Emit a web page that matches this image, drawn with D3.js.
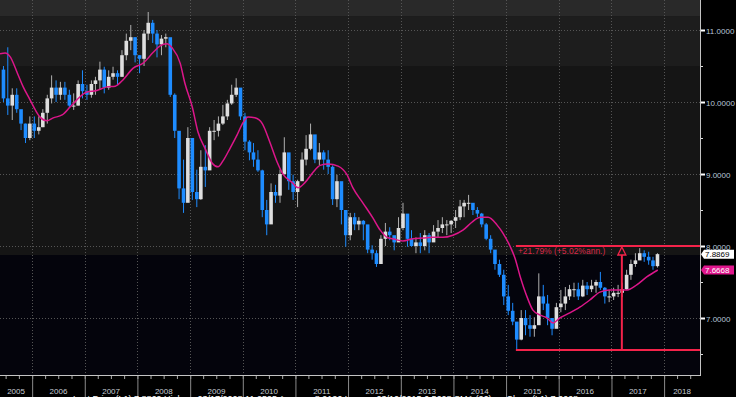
<!DOCTYPE html>
<html>
<head>
<meta charset="utf-8">
<script src="https://cdnjs.cloudflare.com/ajax/libs/d3/7.8.5/d3.min.js"></script>
<style>
  html, body { margin: 0; padding: 0; background: #000; }
  svg { display: block; }
  text { font-family: "Liberation Sans", Arial, sans-serif; }
</style>
</head>
<body>
<svg id="chart" width="736" height="397"></svg>
<script>
// monthly bars, Jun 2005 .. Nov 2017 (open = previous close)
const firstMonth = new Date(2005, 5, 1);
const firstOpen = 10.45;

const highs = [
  10.50, 10.76, 10.19, 10.19, 9.85, 9.70, 9.80,
  9.80, 9.80, 9.90, 10.10, 10.37, 10.30, 10.28, 10.28, 10.17, 10.12, 10.30, 10.44,
  10.24, 10.30, 10.35, 10.56, 10.49, 10.44, 10.49, 10.44, 10.72, 10.95, 11.07, 10.90,
  10.65, 11.00, 11.25, 11.14, 11.00, 10.93, 10.95, 10.80, 10.12, 9.50, 9.20, 9.65,
  9.40, 9.06, 9.33, 9.40, 9.65, 9.75, 9.80, 9.96, 10.03, 10.24, 10.33, 10.17,
  9.85, 9.47, 9.43, 9.33, 9.06, 8.64, 8.87, 8.85, 9.06, 9.51, 9.12, 8.99,
  8.92, 9.30, 9.54, 9.70, 9.47, 9.43, 9.33, 9.33, 9.12, 8.99, 8.78, 8.46,
  8.46, 8.46, 8.40, 8.36, 8.22, 8.01, 7.94, 8.15, 8.32, 8.26, 8.12, 8.40,
  8.60, 8.26, 8.22, 8.12, 8.18, 8.22, 8.18, 8.29, 8.36, 8.40, 8.36, 8.36,
  8.50, 8.64, 8.64, 8.71, 8.57, 8.54, 8.46, 8.32, 8.15, 7.94, 7.81, 7.67,
  7.46, 7.21, 6.83, 7.11, 7.11, 7.04, 7.01, 7.62, 7.46, 7.32, 6.97, 7.21,
  7.39, 7.43, 7.46, 7.49, 7.49, 7.53, 7.50, 7.53, 7.53, 7.64, 7.43, 7.39,
  7.42, 7.46, 7.49, 7.67, 7.81, 7.90, 7.97, 7.94, 7.92, 7.85, 7.90
];
const lows = [
  10.00, 9.82, 9.75, 9.85, 9.61, 9.43, 9.47,
  9.50, 9.55, 9.65, 9.70, 9.98, 10.00, 10.03, 10.03, 9.92, 9.89, 9.95, 10.05,
  10.03, 10.06, 10.10, 10.17, 10.12, 10.17, 10.31, 10.24, 10.35, 10.58, 10.72, 10.55,
  10.40, 10.50, 10.86, 10.82, 10.62, 10.65, 10.76, 10.07, 9.50, 8.65, 8.46, 8.64,
  8.64, 8.54, 8.64, 8.82, 9.20, 9.47, 9.52, 9.68, 9.75, 9.96, 10.07, 9.75,
  9.33, 9.19, 9.10, 9.03, 8.40, 8.15, 8.43, 8.60, 8.60, 8.99, 8.78, 8.64,
  8.54, 8.99, 9.12, 9.33, 9.15, 9.12, 9.06, 9.00, 8.57, 8.54, 8.30, 7.99,
  8.08, 8.22, 8.22, 8.08, 7.90, 7.81, 7.71, 7.81, 8.00, 8.08, 7.94, 8.12,
  8.22, 7.99, 7.99, 7.90, 7.90, 7.94, 7.90, 8.08, 8.12, 8.18, 8.15, 8.18,
  8.25, 8.36, 8.40, 8.50, 8.43, 8.40, 8.26, 8.08, 7.90, 7.67, 7.57, 7.18,
  7.04, 6.90, 6.56, 6.69, 6.76, 6.74, 6.74, 7.07, 7.11, 6.90, 6.76, 7.04,
  7.08, 7.11, 7.25, 7.29, 7.25, 7.29, 7.32, 7.36, 7.35, 7.39, 7.20, 7.22,
  7.25, 7.29, 7.29, 7.39, 7.53, 7.71, 7.85, 7.78, 7.74, 7.67, 7.70
];
const closes = [
  10.05, 9.95, 10.10, 9.90, 9.70, 9.50, 9.70,
  9.60, 9.65, 9.85, 10.05, 10.20, 10.10, 10.20, 10.10, 9.95, 9.95, 10.25, 10.15,
  10.10, 10.25, 10.30, 10.45, 10.20, 10.35, 10.40, 10.35, 10.65, 10.85, 10.90, 10.65,
  10.60, 10.95, 11.10, 10.95, 10.80, 10.88, 10.90, 10.10, 9.60, 8.80, 8.60, 9.50,
  8.75, 8.65, 9.10, 9.05, 9.60, 9.60, 9.70, 9.80, 9.98, 10.10, 10.20, 9.80,
  9.45, 9.30, 9.20, 9.05, 8.50, 8.30, 8.75, 8.70, 9.00, 9.30, 8.90, 8.75,
  8.90, 9.20, 9.35, 9.55, 9.20, 9.30, 9.20, 9.10, 8.65, 8.90, 8.50, 8.15,
  8.40, 8.30, 8.35, 8.30, 7.95, 7.90, 7.75, 8.10, 8.20, 8.15, 8.05, 8.25,
  8.45, 8.10, 8.00, 8.05, 8.00, 8.15, 8.05, 8.20, 8.25, 8.30, 8.30, 8.35,
  8.40, 8.55, 8.60, 8.60, 8.50, 8.45, 8.30, 8.10, 7.95, 7.75, 7.60, 7.30,
  7.10, 6.95, 6.70, 7.00, 6.90, 6.85, 6.90, 7.30, 7.20, 7.00, 6.85, 7.15,
  7.20, 7.30, 7.40, 7.40, 7.30, 7.45, 7.40, 7.45, 7.50, 7.42, 7.30, 7.30,
  7.35, 7.35, 7.40, 7.60, 7.75, 7.80, 7.90, 7.85, 7.80, 7.72, 7.8869
];

// moving average, read as (decimal year, value)
const maYears = [
  2005.39, 2005.49, 2005.58, 2005.72, 2005.83, 2005.96, 2006.06, 2006.15, 2006.28, 2006.40,
  2006.57, 2006.72, 2006.85, 2007.04, 2007.23, 2007.42, 2007.58, 2007.73, 2007.92, 2008.11,
  2008.30, 2008.43, 2008.56, 2008.66, 2008.81, 2008.90, 2009.04, 2009.15, 2009.28, 2009.42,
  2009.53, 2009.63, 2009.76, 2009.89, 2010.01, 2010.10, 2010.23, 2010.37, 2010.52, 2010.65,
  2010.77, 2010.94, 2011.05, 2011.18, 2011.32, 2011.47, 2011.62, 2011.81, 2011.98, 2012.09,
  2012.28, 2012.47, 2012.61, 2012.74, 2012.85, 2013.04, 2013.23, 2013.42, 2013.61, 2013.80,
  2013.99, 2014.18, 2014.35, 2014.51, 2014.66, 2014.83, 2014.94, 2015.08, 2015.17, 2015.27,
  2015.40, 2015.51, 2015.65, 2015.78, 2015.89, 2016.02, 2016.21, 2016.40, 2016.59, 2016.78,
  2016.97, 2017.16, 2017.30, 2017.48, 2017.67, 2017.88
];
const maValues = [
  10.67, 10.68, 10.63, 10.40, 10.21, 10.03, 9.89, 9.79, 9.74, 9.78,
  9.82, 9.93, 10.03, 10.14, 10.16, 10.21, 10.22, 10.31, 10.47, 10.54,
  10.69, 10.78, 10.81, 10.75, 10.54, 10.26, 9.93, 9.58, 9.36, 9.15,
  9.10, 9.19, 9.36, 9.54, 9.72, 9.79, 9.78, 9.70, 9.43, 9.17,
  8.99, 8.88, 8.81, 8.88, 9.01, 9.12, 9.14, 9.11, 8.99, 8.81,
  8.60, 8.39, 8.22, 8.12, 8.10, 8.07, 8.10, 8.11, 8.12, 8.12,
  8.15, 8.22, 8.33, 8.40, 8.40, 8.29, 8.18, 7.99, 7.83, 7.57,
  7.29, 7.11, 7.04, 7.00, 6.93, 7.00, 7.07, 7.15, 7.25, 7.36,
  7.39, 7.39, 7.39, 7.46, 7.57, 7.6668
];

const yearLabels = ['2005', '2006', '2007', '2008', '2009', '2010', '2011',
  '2012', '2013', '2014', '2015', '2016', '2017', '2018'];
const yTicks = [7, 8, 9, 10, 11];
const yMinorTicks = [6.5, 7.5, 8.5, 9.5, 10.5];
const bandEdges = [11.194, 10.5, 7.875];
const bandColors = ['#292929', '#1d1d1d', '#151515', '#04040c'];

const lastPrice = 7.8869;
const lastMa = 7.6668;
const lowLevel = 6.555;
const highLevel = 8.0;
const moveStart = new Date(2015, 2, 10);
const moveMark = new Date(2017, 2, 14);
const moveLabel = '+21.79% (+5.02%ann.)';
const legendText = 'Last Price (L1) 7.8869    High on 03/17/2008 11.2595    Average 8.9126    Low on 03/10/2015 6.5608    SMA (26) on Close (L1) 7.6668';

const plot = { left: 0, top: 0, right: 700, bottom: 375 };
const svg = d3.select('#chart');

const x = d3.scaleTime()
  .domain([new Date(2005, 4, 23), new Date(2018, 8, 7)])
  .range([plot.left, plot.right]);
const y = d3.scaleLinear().domain([7, 11]).range([318, 30]);

function yearToDate(t) {
  const yr = Math.floor(t);
  const a = new Date(yr, 0, 1), b = new Date(yr + 1, 0, 1);
  return new Date(+a + (t - yr) * (b - a));
}

svg.append('rect').attr('width', 736).attr('height', 397).attr('fill', '#000');

// background bands
const edges = [plot.top, ...bandEdges.map(y), plot.bottom];
svg.append('g').selectAll('rect')
  .data(bandColors)
  .join('rect')
  .attr('x', plot.left)
  .attr('width', plot.right - plot.left)
  .attr('y', (d, i) => edges[i])
  .attr('height', (d, i) => edges[i + 1] - edges[i])
  .attr('fill', d => d);

// dotted grid
const yearStarts = d3.timeYear.range(new Date(2006, 0, 1), new Date(2018, 0, 2));
const grid = svg.append('g').attr('stroke', '#555').attr('stroke-dasharray', '1,2');
grid.selectAll('.gy').data(yTicks).join('line')
  .attr('x1', plot.left).attr('x2', plot.right)
  .attr('y1', d => y(d) + 0.5).attr('y2', d => y(d) + 0.5);
grid.selectAll('.gx').data(yearStarts).join('line')
  .attr('x1', d => Math.round(x(d)) + 0.5).attr('x2', d => Math.round(x(d)) + 0.5)
  .attr('y1', plot.top).attr('y2', plot.bottom);

// candles
const bars = closes.map((c, i) => ({
  date: d3.timeDay.offset(d3.timeMonth.offset(firstMonth, i), 15),
  open: i ? closes[i - 1] : firstOpen,
  high: highs[i],
  low: lows[i],
  close: c
}));
const upCol = '#dedede', downCol = '#1e8cff';
const candles = svg.append('g');
candles.selectAll('line').data(bars).join('line')
  .attr('x1', d => x(d.date)).attr('x2', d => x(d.date))
  .attr('y1', d => y(d.high)).attr('y2', d => y(d.low))
  .attr('stroke', d => d.close >= d.open ? '#b0b0b0' : downCol)
  .attr('stroke-width', 1);
candles.selectAll('rect').data(bars).join('rect')
  .attr('x', d => x(d.date) - 1.8)
  .attr('width', 3.6)
  .attr('y', d => y(Math.max(d.open, d.close)))
  .attr('height', d => Math.max(1, Math.abs(y(d.open) - y(d.close))))
  .attr('fill', d => d.close >= d.open ? upCol : downCol);

// moving average
const maData = maYears.map((t, i) => ({ date: yearToDate(t), value: maValues[i] }));
svg.append('path')
  .datum(maData)
  .attr('fill', 'none')
  .attr('stroke', '#dc168a')
  .attr('stroke-width', 1.5)
  .attr('d', d3.line().x(d => x(d.date)).y(d => y(d.value)).curve(d3.curveMonotoneX));

// move annotation
const red = '#f4234a';
const ann = svg.append('g').attr('stroke', red).attr('stroke-width', 2).attr('fill', 'none');
ann.append('line')
  .attr('x1', x(moveStart)).attr('x2', plot.right)
  .attr('y1', y(highLevel)).attr('y2', y(highLevel));
ann.append('line')
  .attr('x1', x(moveStart)).attr('x2', plot.right)
  .attr('y1', y(lowLevel)).attr('y2', y(lowLevel));
ann.append('line')
  .attr('x1', x(moveMark)).attr('x2', x(moveMark))
  .attr('y1', y(lowLevel)).attr('y2', y(highLevel) + 9);
ann.append('path')
  .attr('stroke-width', 1.3)
  .attr('d', `M${x(moveMark)},${y(highLevel) + 1} l4,8 h-8 z`);
svg.append('text')
  .attr('x', x(moveStart) + 2)
  .attr('y', y(highLevel) + 7.5)
  .attr('fill', '#d8284a')
  .attr('font-size', 8.5)
  .text(moveLabel);

// right axis
svg.append('line')
  .attr('x1', plot.right + 0.5).attr('x2', plot.right + 0.5)
  .attr('y1', plot.top).attr('y2', plot.bottom)
  .attr('stroke', '#c4c4c4');
const yAxis = svg.append('g')
  .attr('transform', `translate(${plot.right + 1},0)`)
  .call(d3.axisRight(y).tickValues(yTicks).tickFormat(d3.format('.4f')).tickSize(4).tickPadding(1));
yAxis.select('.domain').remove();
yAxis.selectAll('line').attr('stroke', '#fff').attr('stroke-width', 2);
yAxis.selectAll('text')
  .attr('fill', '#b8c6d8')
  .attr('font-size', 8)
  .attr('dy', '0.4em')
  .style('font-family', '"Liberation Sans", Arial, sans-serif');
const yMinor = svg.append('g')
  .attr('transform', `translate(${plot.right + 1},0)`)
  .call(d3.axisRight(y).tickValues(yMinorTicks).tickSize(2).tickFormat(''));
yMinor.select('.domain').remove();
yMinor.selectAll('line').attr('stroke', '#ddd');

// last value tags
function tag(value, fill, textFill) {
  const cy = y(value);
  const g = svg.append('g');
  g.append('path')
    .attr('d', `M${plot.right + 1},${cy} L${plot.right + 4},${cy - 4.5} H734 V${cy + 4.5} H${plot.right + 4} Z`)
    .attr('fill', fill);
  g.append('text')
    .attr('x', 705).attr('y', cy + 3)
    .attr('font-size', 8)
    .attr('fill', textFill)
    .text(d3.format('.4f')(value));
}
tag(lastPrice, '#fff', '#000');
tag(lastMa, '#e0168c', '#fff');

// bottom axis
svg.append('line')
  .attr('x1', plot.left).attr('x2', plot.right + 1)
  .attr('y1', plot.bottom + 0.5).attr('y2', plot.bottom + 0.5)
  .attr('stroke', '#c4c4c4');
const xQuarter = svg.append('g')
  .attr('transform', `translate(0,${plot.bottom + 1})`)
  .call(d3.axisBottom(x).ticks(d3.timeMonth.every(3)).tickSize(3).tickFormat(''));
xQuarter.select('.domain').remove();
xQuarter.selectAll('line').attr('stroke', '#aaa');
const xYears = svg.append('g')
  .attr('transform', `translate(0,${plot.bottom + 1})`)
  .call(d3.axisBottom(x).tickValues(yearStarts).tickSize(22).tickFormat(''));
xYears.select('.domain').remove();
xYears.selectAll('line').attr('stroke', '#8a8a8a');

svg.append('g').selectAll('text')
  .data(yearLabels)
  .join('text')
  .attr('x', d => {
    const a = Math.max(plot.left, x(new Date(+d, 0, 1)));
    const b = Math.min(plot.right, x(new Date(+d + 1, 0, 1)));
    return (a + b) / 2;
  })
  .attr('y', 393.5)
  .attr('text-anchor', 'middle')
  .attr('font-size', 8)
  .attr('fill', '#c6ccd4')
  .text(d => d);

// legend line, cut off by the bottom edge as in the source
svg.append('text')
  .attr('x', 73).attr('y', 402)
  .attr('font-size', 9)
  .attr('fill', '#fff')
  .text(legendText);
</script>
</body>
</html>
